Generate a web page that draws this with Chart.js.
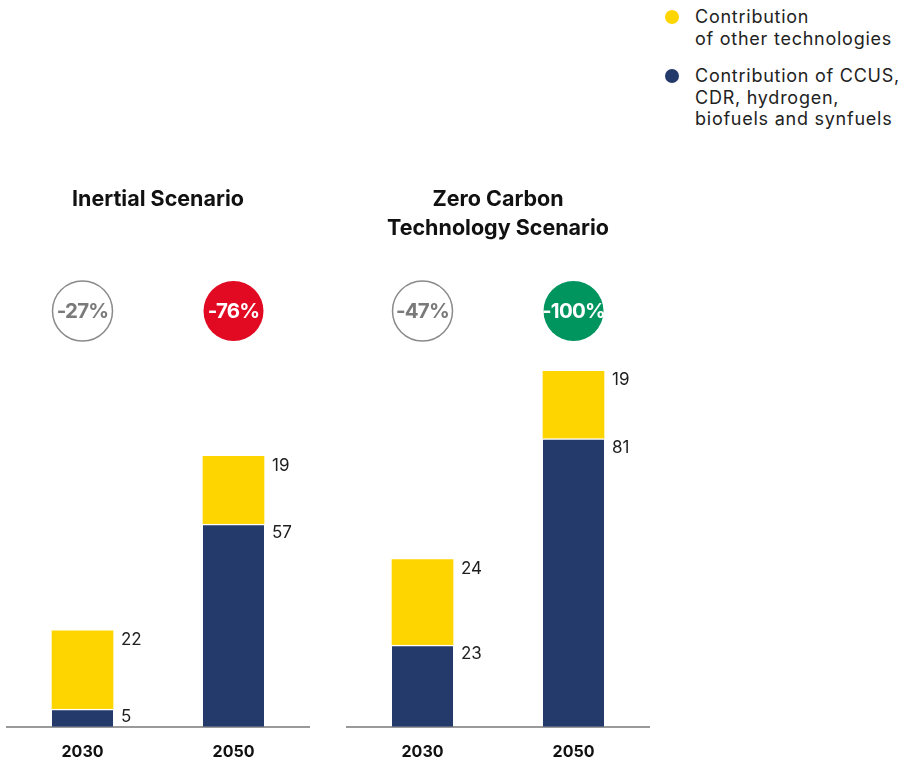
<!DOCTYPE html>
<html>
<head>
<meta charset="utf-8">
<script src="https://cdn.jsdelivr.net/npm/chart.js@4.4.0/dist/chart.umd.min.js"></script>
<style>
  body { margin: 0; background: #fff; font-family: Inter, sans-serif; }
  #wrap { position: relative; width: 904px; height: 759px; overflow: hidden; }
  .box { position: absolute; top: 0; width: 320px; height: 778px; }
  #legend { position: absolute; left: 664px; top: 6px; color: #222; font-size: 18px; letter-spacing: 0.75px; line-height: 21.5px; }
  .item { position: relative; padding-left: 31px; margin-bottom: 16px; }
  .dot { position: absolute; left: 1px; top: 4px; width: 14px; height: 14px; border-radius: 50%; }
</style>
</head>
<body>
<div id="wrap">
  <div class="box" style="left:0px"><canvas id="chartInercial"></canvas></div>
  <div class="box" style="left:340px"><canvas id="chartCero"></canvas></div>
  <div id="legend"></div>
</div>
<script>
const anios = ['2030', '2050'];
const titulosEscenario = [['Inertial Scenario', ''], ['Zero Carbon', 'Technology Scenario']];
const seriesNombres = ['Contribution\nof other technologies', 'Contribution of CCUS,\nCDR, hydrogen,\nbiofuels and synfuels'];
const ccusInercial = [5, 57];
const otrasInercial = [22, 19];
const ccusCero = [23, 81];
const otrasCero = [24, 19];
const reduccionInercial = ['-27%', '-76%'];
const reduccionCero = ['-47%', '-100%'];

const AMARILLO = '#ffd500';
const AZUL = '#243a6b';

// leyenda en html
const legend = document.getElementById('legend');
[AMARILLO, AZUL].forEach((color, i) => {
    legend.innerHTML += `<div class="item"><span class="dot" style="background:${color}"></span>${seriesNombres[i].replace(/\n/g, '<br>')}</div>`;
});

const etiquetasPlugin = {
    id: 'etiquetas',
    afterDatasetsDraw(chart) {
        const ctx = chart.ctx;
        ctx.save();
        ctx.font = '17px Inter';
        ctx.fillStyle = '#1e1e1e';
        ctx.textAlign = 'left';
        ctx.textBaseline = 'middle';
        chart.data.datasets.forEach((ds, d) => {
            chart.getDatasetMeta(d).data.forEach((bar, i) => {
                const h = bar.base - bar.y;
                ctx.fillText(ds.data[i], bar.x + bar.width / 2 + 8, bar.y + Math.min(9, h / 2 - 1));
            });
        });
        ctx.restore();
    }
};

const circulosPlugin = {
    id: 'circulos',
    afterDraw(chart, args, opts) {
        const ctx = chart.ctx;
        const y = chart.chartArea.top - 60;
        ctx.save();
        opts.textos.forEach((txt, i) => {
            const x = chart.scales.x.getPixelForValue(i);
            const estilo = opts.estilos[i];
            ctx.beginPath();
            ctx.arc(x, y, 30, 0, Math.PI * 2);
            if (estilo.relleno) {
                ctx.fillStyle = estilo.relleno;
                ctx.fill();
            } else {
                ctx.lineWidth = 1.5;
                ctx.strokeStyle = '#8a8a8a';
                ctx.stroke();
            }
            ctx.font = 'bold 20.5px Inter';
            ctx.letterSpacing = '-0.8px';
            ctx.fillStyle = estilo.texto;
            ctx.textAlign = 'center';
            ctx.textBaseline = 'middle';
            ctx.fillText(txt, x, y + 1);
        });
        ctx.restore();
    }
};

const crearGrafico = (id, titulo, ccus, otras, textos, estilos) => {
    new Chart(document.getElementById(id), {
        type: 'bar',
        data: {
            labels: anios,
            datasets: [
                { label: seriesNombres[1], data: ccus, backgroundColor: AZUL, borderColor: '#fff', borderWidth: { top: 1.5, left: 0, right: 0, bottom: 0 }, borderSkipped: 'start', barThickness: 61 },
                { label: seriesNombres[0], data: otras, backgroundColor: AMARILLO, borderWidth: 0, barThickness: 61 }
            ]
        },
        options: {
            responsive: true,
            maintainAspectRatio: false,
            animation: false,
            layout: { padding: { left: 7, right: 11, top: 0, bottom: 0 } },
            plugins: {
                legend: { display: false },
                tooltip: { enabled: false },
                title: {
                    display: true,
                    text: titulo,
                    color: '#111',
                    font: { family: 'Inter', size: 21.5, weight: 'bold', lineHeight: 1.35 },
                    padding: { top: 185, bottom: 128 }
                },
                circulos: { textos: textos, estilos: estilos }
            },
            scales: {
                x: {
                    stacked: true,
                    grid: { display: false, drawTicks: false },
                    border: { display: true, color: '#9a9a9a', width: 2 },
                    ticks: { color: '#111', padding: 16, font: { family: 'Inter', size: 16, weight: 'bold' } }
                },
                y: {
                    stacked: true,
                    display: false,
                    min: 0,
                    max: 100
                }
            }
        },
        plugins: [etiquetasPlugin, circulosPlugin]
    });
};

crearGrafico('chartInercial', titulosEscenario[0], ccusInercial, otrasInercial, reduccionInercial,
    [{ relleno: null, texto: '#7a7a7a' }, { relleno: '#e20a22', texto: '#fff' }]);
crearGrafico('chartCero', titulosEscenario[1], ccusCero, otrasCero, reduccionCero,
    [{ relleno: null, texto: '#7a7a7a' }, { relleno: '#00955f', texto: '#fff' }]);
</script>
</body>
</html>
